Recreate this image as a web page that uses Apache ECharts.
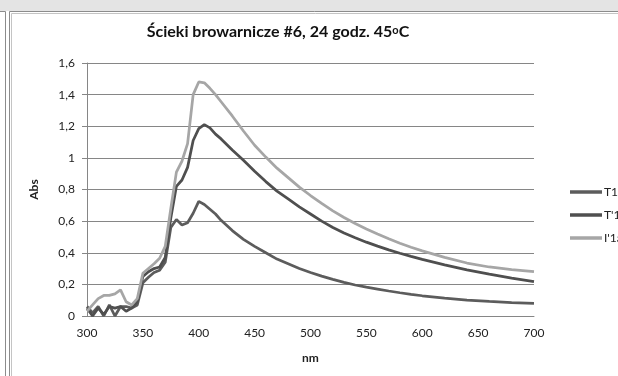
<!DOCTYPE html>
<html>
<head>
<meta charset="utf-8">
<script src="https://cdn.jsdelivr.net/npm/echarts@6/dist/echarts.min.js"></script>
<style>html,body{margin:0;padding:0;background:#fff;}#c{width:618px;height:376px;}</style>
</head>
<body>
<div id="c"></div>
<script>
const wavelengths = [300,305,310,315,320,325,330,335,340,345,350,355,360,365,370,375,380,385,390,395,400,405,410,415,420,430,440,450,460,470,480,490,500,510,520,530,540,550,560,570,580,590,600,620,640,660,680,700];
const seriesNames = ["T1", "T'1", "I'1a"];
const t1 = [0.06,0.02,0.06,0.0,0.07,0.0,0.06,0.06,0.05,0.07,0.21,0.245,0.275,0.29,0.34,0.56,0.61,0.575,0.59,0.65,0.725,0.705,0.675,0.645,0.605,0.54,0.485,0.44,0.40,0.36,0.33,0.30,0.275,0.252,0.232,0.213,0.196,0.182,0.17,0.158,0.147,0.137,0.128,0.113,0.101,0.092,0.085,0.08];
const t1p = [0.05,0.0,0.05,0.01,0.06,0.05,0.06,0.03,0.05,0.09,0.25,0.28,0.30,0.31,0.37,0.62,0.82,0.86,0.94,1.11,1.185,1.21,1.19,1.15,1.12,1.05,0.985,0.915,0.85,0.79,0.74,0.69,0.645,0.60,0.56,0.525,0.495,0.467,0.442,0.418,0.397,0.377,0.358,0.323,0.292,0.265,0.24,0.217];
const i1a = [0.03,0.07,0.11,0.13,0.13,0.14,0.165,0.09,0.07,0.11,0.27,0.30,0.33,0.365,0.44,0.68,0.91,0.98,1.09,1.40,1.48,1.475,1.44,1.40,1.355,1.265,1.17,1.08,1.005,0.935,0.875,0.815,0.762,0.712,0.665,0.623,0.585,0.55,0.518,0.488,0.46,0.435,0.412,0.371,0.335,0.31,0.293,0.28];
const yTicks = [0,0.2,0.4,0.6,0.8,1,1.2,1.4,1.6];
const xTicks = [300,350,400,450,500,550,600,650,700];
const colors = ["#5c5c5c", "#4f4f4f", "#a6a6a6"];

const pairs = v => wavelengths.map((w, i) => [w, v[i]]);
const allData = [t1, t1p, i1a];
const FONT = "Lato";

const chart = echarts.init(document.getElementById('c'));
chart.setOption({
  animation: false,
  backgroundColor: '#ffffff',
  textStyle: { fontFamily: FONT },
  title: {
    text: '{a|Ścieki browarnicze #6, 24 godz. 45}{s|o}{a|C}',
    left: 273, top: 19, textAlign: 'center',
    textStyle: {
      rich: {
        a: { fontFamily: FONT, fontWeight: 'bold', fontSize: 16, color: '#111' },
        s: { fontFamily: FONT, fontWeight: 'bold', fontSize: 11, color: '#111', padding: [0,0,4,0] }
      }
    }
  },
  graphic: [
    { type: 'rect', shape: { x: 0, y: 0, width: 618, height: 11 }, style: { fill: '#e4e4e4' }, silent: true },
    { type: 'polyline', shape: { points: [[0, 11.5], [5.5, 11.5], [5.5, 376]] }, style: { stroke: '#8c8c8c', lineWidth: 1, fill: null }, silent: true },
    { type: 'rect', shape: { x: 9.5, y: 11.5, width: 700, height: 400 }, style: { stroke: '#8c8c8c', lineWidth: 1, fill: null }, silent: true },
    { type: 'rect', shape: { x: 11.5, y: 13.5, width: 700, height: 400 }, style: { stroke: '#c4c4c4', lineWidth: 1, fill: null }, silent: true }
  ],
  legend: {
    orient: 'vertical', left: 565, top: 181,
    icon: 'rect', itemWidth: 32, itemHeight: 3.5, itemGap: 11,
    textStyle: { fontFamily: FONT, fontSize: 12, color: '#222', padding: [0,0,0,-3] },
    data: seriesNames
  },
  grid: { left: 87, right: 84, top: 63, bottom: 60, containLabel: false },
  xAxis: {
    type: 'value', min: xTicks[0], max: xTicks[xTicks.length - 1], interval: 50,
    name: 'nm', nameLocation: 'middle', nameGap: 36,
    nameTextStyle: { fontFamily: FONT, fontWeight: 'bold', fontSize: 12, color: '#222' },
    axisLine: { show: true, onZero: false, lineStyle: { color: '#868686', width: 1 } },
    axisTick: { show: false },
    splitLine: { show: false },
    axisLabel: { margin: 11, fontFamily: FONT, fontSize: 12, color: '#222', formatter: v => String(v) }
  },
  yAxis: {
    type: 'value', min: yTicks[0], max: yTicks[yTicks.length - 1], interval: 0.2,
    name: 'Abs', nameLocation: 'middle', nameGap: 47, nameRotate: 90,
    nameTextStyle: { fontFamily: FONT, fontWeight: 'bold', fontSize: 12, color: '#222' },
    axisLine: { show: true, lineStyle: { color: '#868686', width: 1 } },
    axisTick: { show: true, inside: false, length: 5, lineStyle: { color: '#868686' } },
    splitLine: { show: true, lineStyle: { color: '#868686', width: 1 } },
    axisLabel: { margin: 12, fontFamily: FONT, fontSize: 12, color: '#222',
      formatter: v => String(+v.toFixed(1)).replace('.', ',') }
  },
  series: seriesNames.map((n, k) => ({
    name: n, type: 'line', data: pairs(allData[k]),
    showSymbol: false, symbol: 'none',
    color: colors[k],
    lineStyle: { color: colors[k], width: 2.75 },
    z: 2 + k
  }))
});
</script>
</body>
</html>
